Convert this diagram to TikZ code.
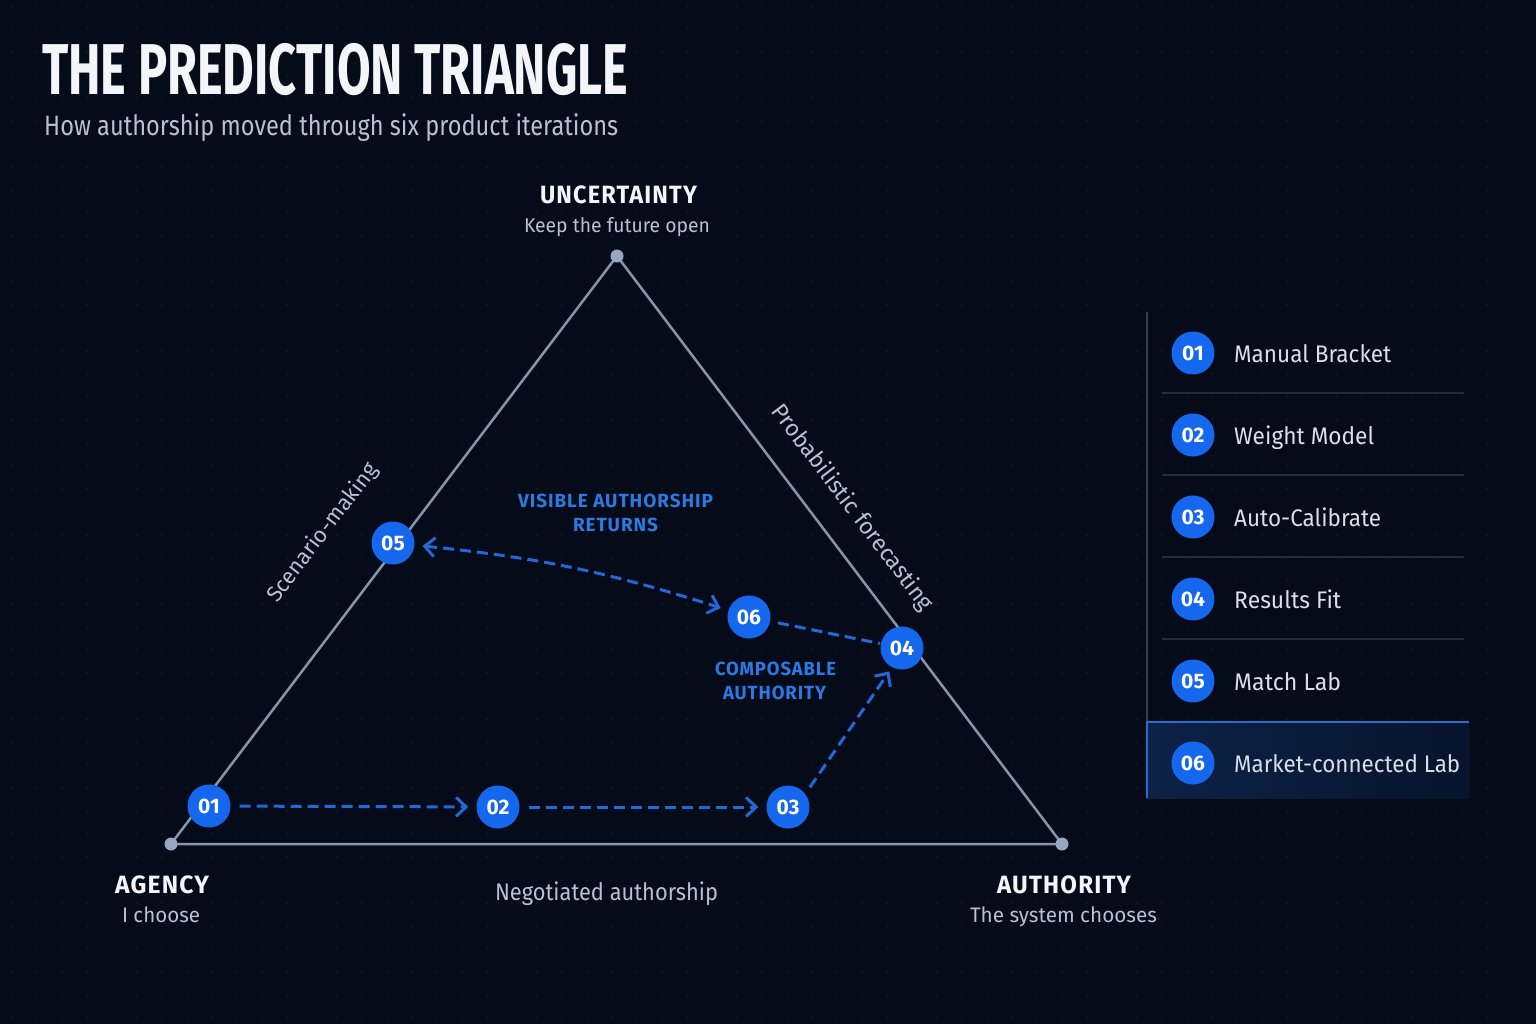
\documentclass[tikz,border=0pt]{standalone}
\usepackage{fontspec}
\setmainfont{Fira Sans}
\newfontfamily\capsf[LetterSpace=5]{Fira Sans}
\usetikzlibrary{arrows.meta}
\definecolor{bg}{HTML}{050B18}
\definecolor{dotc}{HTML}{101B2F}
\definecolor{edgec}{HTML}{8794AA}
\definecolor{vtx}{HTML}{97A7C0}
\definecolor{graytxt}{HTML}{B7C1D2}
\definecolor{whitetxt}{HTML}{F3F5F9}
\definecolor{nodeblue}{HTML}{1567EE}
\definecolor{flowblue}{HTML}{2467D6}
\definecolor{lblblue}{HTML}{2C79E2}
\definecolor{legline}{HTML}{353F52}
\definecolor{sepc}{HTML}{242D3D}
\definecolor{hlA}{HTML}{0C2247}
\definecolor{hlB}{HTML}{07142C}
\definecolor{hlline}{HTML}{2A6CCF}
\definecolor{legtxt}{HTML}{D9DFE8}
\newsavebox\fitbox
\newcommand\fitx[2]{\sbox\fitbox{#2}\pgfmathsetmacro\fitfac{#1/\the\wd\fitbox}\scalebox{\fitfac}[1]{\usebox\fitbox}}
\newcommand\fsz[1]{\fontsize{#1}{#1}\selectfont}
\begin{document}
\begin{tikzpicture}[x=1pt,y=-1pt,
  badge/.style={circle,fill=nodeblue,minimum size=43pt,inner sep=0pt,text=white,font=\bfseries\fsz{21}},
  flow/.style={draw=flowblue,line width=3pt,dash pattern=on 11pt off 6pt},
  tip/.style={-{Straight Barb[length=10pt,width=19pt]}},
  sideline/.style={draw=edgec,line width=2.5pt,line join=round},
  txt/.style={inner sep=0pt,anchor=base}]
\fill[bg] (0,0) rectangle (1536,1024);
\useasboundingbox (0,0) rectangle (1536,1024);
\foreach \i in {0,...,61}{\foreach \j in {0,...,44}{\fill[dotc] ({12+25*\i},{6+23*\j}) circle (1.1);}}

% title
\node[txt,anchor=base west,text=whitetxt] (title) at (42,95) {\fitx{586}{\bfseries\fsz{72}THE PREDICTION TRIANGLE}};
\node[txt,anchor=base west,text=graytxt] (subtitle) at (44,136) {\fitx{574}{\fsz{28}How authorship moved through six product iterations}};

% triangle
\coordinate (U) at (617,256);
\coordinate (A) at (171,844);
\coordinate (R) at (1062,844);
\draw[sideline] (U) -- (A) -- (R) -- cycle;
\fill[vtx] (U) circle (6.5);
\fill[vtx] (A) circle (6.5);
\fill[vtx] (R) circle (6.5);

% corner labels
\node[txt,text=whitetxt] (lu1) at (618.5,204) {\fitx{157}{\capsf\bfseries\fsz{25}UNCERTAINTY}};
\node[txt,text=graytxt] (lu2) at (617,233) {\fitx{186}{\fsz{20}Keep the future open}};
\node[txt,text=whitetxt] (la1) at (162,893) {\fitx{94}{\capsf\bfseries\fsz{25}AGENCY}};
\node[txt,text=graytxt] (la2) at (161,922) {\fitx{78}{\fsz{21}I choose}};
\node[txt,text=whitetxt] (lr1) at (1064,893) {\fitx{134}{\capsf\bfseries\fsz{25}AUTHORITY}};
\node[txt,text=graytxt] (lr2) at (1063.5,922) {\fitx{187}{\fsz{21}The system chooses}};
\node[txt,text=graytxt] (lb) at (606.5,900) {\fitx{223}{\fsz{24}Negotiated authorship}};
\node[inner sep=0pt,text=graytxt,rotate=52.8] (ll) at (323,533) {\fsz{22}Scenario-making};
\node[inner sep=0pt,text=graytxt,rotate=-52.8] (lrr) at (852,508) {\fsz{23}Probabilistic forecasting};

% inner labels
\node[txt,text=lblblue] (v1) at (615.5,507) {\fitx{195}{\capsf\bfseries\fsz{19}VISIBLE AUTHORSHIP}};
\node[txt,text=lblblue] (v2) at (615.5,531) {\fitx{85}{\capsf\bfseries\fsz{19}RETURNS}};
\node[txt,text=lblblue] (c1) at (775.5,675) {\fitx{121}{\capsf\bfseries\fsz{19}COMPOSABLE}};
\node[txt,text=lblblue] (c2) at (774.5,699) {\fitx{103}{\capsf\bfseries\fsz{19}AUTHORITY}};

% iteration nodes
\node[badge] (n1) at (209,806) {01};
\node[badge] (n2) at (498,807) {02};
\node[badge] (n3) at (788,807) {03};
\node[badge] (n4) at (902,648) {04};
\node[badge] (n5) at (393,543) {05};
\node[badge] (n6) at (749,617) {06};

\draw[flow,tip,shorten <=9pt,shorten >=8pt] (n1) -- (n2);
\draw[flow,tip,shorten <=9pt,shorten >=8pt] (n2) -- (n3);
\draw[flow,tip,shorten <=8pt,shorten >=5pt] (n3.37) -- (n4.243);
\draw[flow,shorten <=8pt,shorten >=1pt] (n6) -- (n4);
\draw[flow,{Straight Barb[length=10pt,width=19pt]}-{Straight Barb[length=10pt,width=19pt]},shorten <=8pt,shorten >=8pt] (n5) to[bend left=6] (n6);

% legend
\shade[left color=hlA,right color=hlB] (1147,722) rectangle (1469,798);
\draw[legline,line width=2pt] (1147,312) -- (1147,722);
\draw[hlline,line width=2.5pt] (1147,722) -- (1147,798);
\draw[hlline,line width=2pt] (1147,722) -- (1469,722);
\foreach \y in {393,475,557,639}{\draw[sepc,line width=1.2pt] (1162,\y) -- (1464,\y);}
\foreach \k/\y/\w/\t in {1/353/157/Manual Bracket,2/435/140/Weight Model,3/517/147/Auto-Calibrate,4/599/107/Results Fit,5/681/107/Match Lab,6/763/226/Market-connected Lab}{
  \node[badge] (leg\k) at (1193,\y) {0\k};
  \node[txt,anchor=base west,text=legtxt] (legt\k) at (1234,\y+9) {\fitx{\w}{\fsz{24}\t}};
}
\end{tikzpicture}
\end{document}
